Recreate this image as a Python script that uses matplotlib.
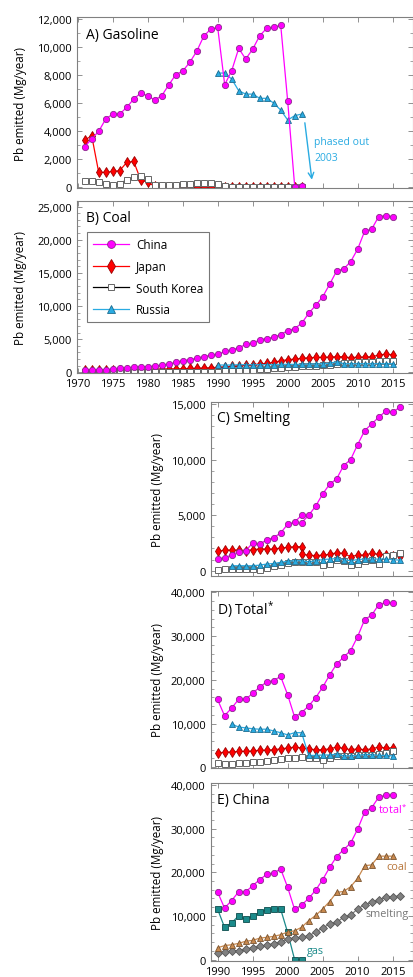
import matplotlib
matplotlib.use('Agg')
import matplotlib.pyplot as plt
from matplotlib.ticker import MultipleLocator, FuncFormatter

plt.rcParams['font.family'] = ['Open Sans', 'DejaVu Sans']
plt.rcParams['mathtext.default'] = 'regular'

# ---------------- data ----------------
# A) gasoline, 1971-2002
years_gas = list(range(1971, 2003))
china_gas = [2900, 3450, 4000, 4870, 5230, 5230, 5700, 6300, 6720, 6530,
             6230, 6530, 7300, 8030, 8290, 8910, 9700, 10770, 11290, 11400,
             7320, 8320, 9910, 9150, 9860, 10810, 11340, 11400, 11570, 6130,
             50, 100]
japan_gas = [3370, 3680, 1070, 1070, 1140, 1190, 1780, 1850, 530, 360,
             80, 40, 30, 30, 30, 30, 30, 30, 30, 30,
             20, 20, 20, 20, 20, 20, 20, 20, 20, 20, 20, 20]
korea_gas = [480, 450, 380, 240, 170, 240, 550, 710, 830, 590,
             190, 170, 170, 170, 210, 210, 290, 290, 310, 260,
             70, 50, 50, 50, 50, 50, 50, 50, 50, 50, 50, 50]
years_gas_ru = list(range(1990, 2003))
russia_gas = [8150, 8150, 7720, 6890, 6650, 6650, 6350, 6350, 6010, 5510,
              4800, 5110, 5230]

# B) coal, 1971-2015
years_coal = list(range(1971, 2016))
china_coal = [400, 400, 400, 400, 500, 600, 700, 750, 850, 850,
              950, 1050, 1250, 1500, 1750, 1900, 2150, 2350, 2600, 2700,
              3150, 3400, 3700, 4200, 4400, 4900, 5100, 5300, 5700, 6300,
              6600, 7400, 8900, 10100, 11400, 13300, 15300, 15600, 16700, 18600,
              21300, 21600, 23500, 23600, 23500]
japan_coal = [300, 300, 300, 300, 300, 320, 350, 380, 400, 420,
              450, 480, 500, 520, 550, 580, 620, 650, 700, 750,
              800, 900, 1000, 1100, 1150, 1250, 1350, 1500, 1750, 1900,
              2000, 2100, 2200, 2250, 2250, 2300, 2350, 2350, 2200, 2300,
              2300, 2350, 2600, 2750, 2650]
korea_coal = [0, 0, 0, 0, 0, 0, 0, 0, 0, 50,
              50, 50, 50, 50, 50, 50, 50, 50, 50, 100,
              150, 200, 250, 300, 400, 450, 550, 600, 700, 800,
              850, 900, 950, 1000, 1050, 1100, 1200, 1400, 1450, 1500,
              1550, 1600, 1650, 1700, 1750]
years_coal_ru = list(range(1990, 2016))
russia_coal = [1100, 1100, 1100, 1150, 1150, 1150, 1150, 1150, 1150, 1200,
               1200, 1200, 1200, 1250, 1250, 1300, 1350, 1600, 1300, 1300,
               1300, 1300, 1300, 1300, 1300, 1300]

# C) smelting (two data sources overlapping at 2002 for China and Japan)
years_sm1 = list(range(1990, 2003))
years_sm2 = list(range(2002, 2017))
china_sm1 = [1050, 1170, 1410, 1710, 1770, 2490, 2370, 2790, 2970, 3390,
             4170, 4380, 4980]
china_sm2 = [4320, 4980, 5800, 6900, 7780, 8260, 9460, 10000, 11350, 12600,
             13200, 13800, 14350, 14250, 14700]
japan_sm1 = [1740, 1860, 1860, 1860, 1800, 1890, 1950, 1950, 1950, 2040,
             2100, 2160, 2160]
japan_sm2 = [1470, 1410, 1350, 1410, 1470, 1620, 1560, 1260, 1410, 1410,
             1560, 1470, 1410, 1350, 1350]
years_sm = list(range(1990, 2017))
korea_sm = [100, 120, 150, 120, 120, 120, 100, 210, 390, 540,
            660, 750, 750, 810, 810, 510, 600, 960, 900, 540,
            600, 900, 990, 600, 1350, 1440, 1560]
years_sm_ru = list(range(1992, 2017))
russia_sm = [450, 450, 450, 450, 500, 600, 650, 750, 850, 900,
             900, 800, 900, 1000, 1050, 1100, 1000, 900, 1000, 1050,
             1050, 1050, 1050, 1000, 950]

# D) total*, 1990-2015
years_tot = list(range(1990, 2016))
china_tot = [15500, 11800, 13500, 15500, 15500, 16900, 18300, 19500, 19800, 20800,
             16600, 11500, 12500, 14000, 15900, 18300, 21100, 23600, 25200, 26700,
             29900, 33800, 34800, 37200, 37700, 37600]
japan_tot = [3300, 3400, 3500, 3600, 3650, 3700, 3900, 3900, 4000, 4200,
             4400, 4600, 4400, 4200, 4000, 4000, 4200, 4600, 4300, 4000,
             4200, 4000, 4200, 4600, 4400, 4400]
korea_tot = [1000, 700, 700, 850, 1000, 1150, 1300, 1450, 1600, 1850,
             2050, 2150, 2350, 2200, 2200, 1750, 2050, 2600, 2600, 2500,
             2700, 2700, 2850, 3050, 3300, 3800]
years_tot_ru = list(range(1992, 2016))
russia_tot = [9900, 9200, 9000, 8800, 8700, 8700, 8300, 7900, 7400, 7900,
              7900, 2700, 2700, 2800, 2800, 3000, 2600, 2600, 2700, 2900,
              2900, 2700, 2700, 2600]

# E) China by source
years_e_coal = list(range(1990, 2016))
e_coal = [2700, 3200, 3400, 3700, 4200, 4400, 4900, 5100, 5300, 5700,
          6300, 6600, 7400, 8900, 10100, 11600, 13300, 15400, 15600, 16700,
          18600, 21500, 21700, 23700, 23700, 23700]
years_e_sm = list(range(1990, 2017))
e_smelt = [1600, 1750, 2000, 2050, 2350, 2750, 3000, 3350, 3650, 4050,
           4750, 4950, 5100, 5500, 6250, 7250, 8150, 8550, 9700, 10200,
           11600, 12600, 13100, 13650, 14300, 14300, 14650]
years_e_gas = list(range(1990, 2003))
e_gas = [11600, 7400, 8400, 10000, 9200, 10000, 10800, 11400, 11600, 11600,
         6250, 0, 0]

# ---------------- styles ----------------
MAGENTA = '#FF00FF'
RED = '#FF0000'
BLUE = '#29ABE2'
china_st = dict(color=MAGENTA, marker='o', ms=4.5, mfc=MAGENTA, mec='#8a2a8a', mew=0.6, lw=0.9)
japan_st = dict(color=RED, marker='d', ms=5.5, mfc=RED, mec='#990000', mew=0.6, lw=0.9)
korea_st = dict(color='black', marker='s', ms=3.8, mfc='white', mec='#666666', mew=0.7, lw=0.9)
russia_st = dict(color=BLUE, marker='^', ms=5, mfc=BLUE, mec='#1d6d90', mew=0.6, lw=0.9)
coal_st = dict(color='#C8894E', marker='^', ms=5, mfc='#C8894E', mec='#7a5430', mew=0.6, lw=0.9)
smelt_st = dict(color='#808080', marker='D', ms=3.8, mfc='#808080', mec='#555555', mew=0.6, lw=0.9)
gas_st = dict(color='#1B8A8A', marker='s', ms=3.8, mfc='#1B8A8A', mec='#0d4d4d', mew=0.6, lw=0.9)

SPINE = '#808080'
tick_fs = 8
comma = FuncFormatter(lambda v, p: f"{v:,.0f}")


def style_axes(ax, xlim, ylim, ymajor, yminor, xticks, show_x):
    ax.set_xlim(xlim)
    ax.set_ylim(ylim)
    ax.set_xticks(xticks)
    ax.yaxis.set_major_locator(MultipleLocator(ymajor))
    ax.yaxis.set_minor_locator(MultipleLocator(yminor))
    ax.yaxis.set_major_formatter(comma)
    ax.tick_params(which='both', direction='in', top=True, right=True,
                   colors=SPINE, labelcolor='black', labelsize=tick_fs)
    ax.tick_params(which='major', length=3.5, width=0.6)
    ax.tick_params(which='minor', length=2, width=0.5)
    for s in ax.spines.values():
        s.set_color(SPINE)
        s.set_linewidth(0.8)
    if not show_x:
        ax.tick_params(axis='x', labelbottom=False)
    ax.set_ylabel('Pb emitted (Mg/year)', fontsize=8.4)


fig = plt.figure(figsize=(4.14, 9.78), dpi=100)

wide_x = (1969.9, 2017.9)
narrow_x = (1989.0, 2017.9)
wide_ticks = list(range(1970, 2016, 5))
narrow_ticks = list(range(1990, 2016, 5))

# ---- A) Gasoline ----
axA = fig.add_axes([0.186, 0.8064, 0.8116, 0.1748])
axA.plot(years_gas, japan_gas, **japan_st)
axA.plot(years_gas, korea_gas, **korea_st)
axA.plot(years_gas_ru, russia_gas, **russia_st)
axA.plot(years_gas, china_gas, **china_st)
style_axes(axA, wide_x, (-70, 12120), 2000, 1000, wide_ticks, False)
axA.yaxis.set_label_coords(-0.150, 0.5)
axA.text(0.027, 0.902, 'A) Gasoline', transform=axA.transAxes, fontsize=10, va='center')
axA.annotate('', xy=(2003.5, 350), xytext=(2002.4, 4800),
             arrowprops=dict(arrowstyle='->', color=BLUE, lw=1.0, mutation_scale=10))
axA.text(2003.8, 3250, 'phased out', color=BLUE, fontsize=7.5, va='center')
axA.text(2003.8, 2150, '2003', color=BLUE, fontsize=7.5, va='center')

# ---- B) Coal ----
axB = fig.add_axes([0.186, 0.6176, 0.8116, 0.1756])
hj, = axB.plot(years_coal, japan_coal, **japan_st)
hk, = axB.plot(years_coal, korea_coal, **korea_st)
hr, = axB.plot(years_coal_ru, russia_coal, **russia_st)
hc, = axB.plot(years_coal, china_coal, **china_st)
style_axes(axB, wide_x, (-100, 25800), 5000, 1000, wide_ticks, True)
axB.yaxis.set_label_coords(-0.150, 0.5)
axB.text(0.027, 0.903, 'B) Coal', transform=axB.transAxes, fontsize=10, va='center')
leg = axB.legend([hc, hj, hk, hr], ['China', 'Japan', 'South Korea', 'Russia'],
                 loc='upper left', bbox_to_anchor=(0.031, 0.821), borderaxespad=0,
                 fontsize=8.5, handlelength=3.0, handletextpad=0.6, labelspacing=0.75,
                 markerscale=1.25, borderpad=0.5, fancybox=False, framealpha=1,
                 edgecolor='#777777')
leg.get_frame().set_linewidth(0.8)

# ---- C) Smelting ----
axC = fig.add_axes([0.5085, 0.4103, 0.4891, 0.1779])
axC.plot(years_sm1, japan_sm1, **japan_st)
axC.plot(years_sm2, japan_sm2, **japan_st)
axC.plot(years_sm, korea_sm, **korea_st)
axC.plot(years_sm_ru, russia_sm, **russia_st)
axC.plot(years_sm1, china_sm1, **china_st)
axC.plot(years_sm2, china_sm2, **china_st)
style_axes(axC, narrow_x, (-450, 15200), 5000, 1000, narrow_ticks, False)
axC.yaxis.set_label_coords(-0.232, 0.5)
axC.text(0.031, 0.91, 'C) Smelting', transform=axC.transAxes, fontsize=10, va='center')

# ---- D) Total* ----
axD = fig.add_axes([0.5085, 0.2134, 0.4891, 0.1816])
axD.plot(years_tot, japan_tot, **japan_st)
axD.plot(years_tot, korea_tot, **korea_st)
axD.plot(years_tot_ru, russia_tot, **russia_st)
axD.plot(years_tot, china_tot, **china_st)
style_axes(axD, narrow_x, (-250, 40400), 10000, 2000, narrow_ticks, False)
axD.yaxis.set_label_coords(-0.232, 0.5)
axD.text(0.031, 0.897, 'D) Total$^{*}$', transform=axD.transAxes, fontsize=10, va='center')

# ---- E) China ----
axE = fig.add_axes([0.5085, 0.0167, 0.4891, 0.1814])
axE.plot(years_e_gas, e_gas, **gas_st)
axE.plot(years_e_sm, e_smelt, **smelt_st)
axE.plot(years_e_coal, e_coal, **coal_st)
axE.plot(years_tot, china_tot, **china_st)
style_axes(axE, narrow_x, (-250, 40400), 10000, 2000, narrow_ticks, True)
axE.yaxis.set_label_coords(-0.232, 0.5)
axE.text(0.031, 0.906, 'E) China', transform=axE.transAxes, fontsize=10, va='center')
axE.text(2017.0, 34500, 'total$^{*}$', color=MAGENTA, fontsize=7.8, ha='right', va='center')
axE.text(2017.1, 21400, 'coal', color='#B8763A', fontsize=7.8, ha='right', va='center')
axE.text(2017.3, 10500, 'smelting', color='#777777', fontsize=7.8, ha='right', va='center')
axE.text(2002.7, 2100, 'gas', color='#1B8A8A', fontsize=7.8, ha='left', va='center')

fig.savefig('out.png', dpi=100)
